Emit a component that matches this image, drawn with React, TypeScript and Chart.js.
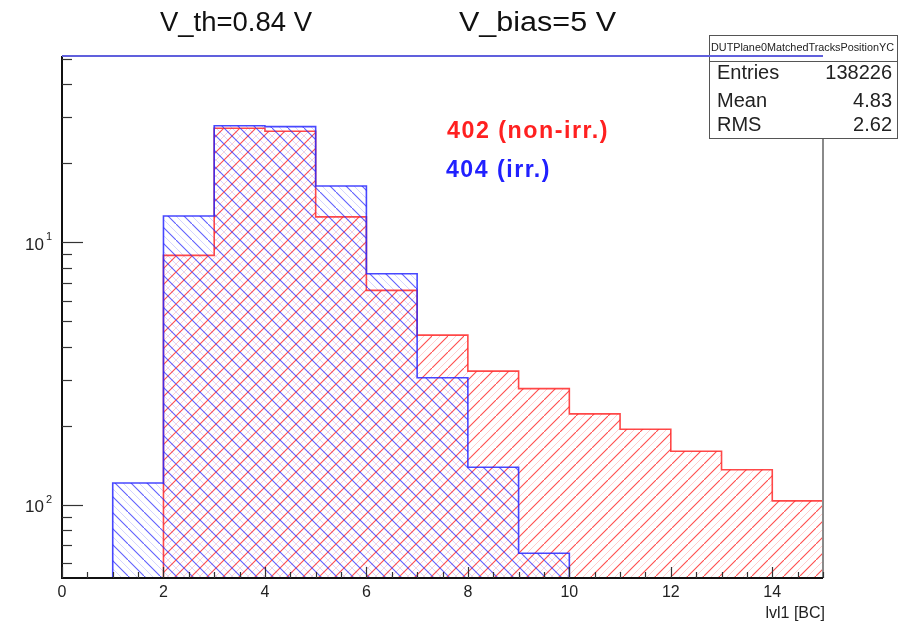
import React, { useEffect, useRef } from "react";
import { Chart, registerables } from "chart.js";

Chart.register(...registerables);

// ---- data ----
const binEdges = [0, 1, 2, 3, 4, 5, 6, 7, 8, 9, 10, 11, 12, 13, 14, 15];
const red402 = [0, 0, 0.0892, 0.272, 0.265, 0.125, 0.0656, 0.0443, 0.0323, 0.0277, 0.0222, 0.0194, 0.016, 0.0136, 0.01035];
const blue404 = [0, 0.0121, 0.126, 0.278, 0.276, 0.164, 0.0759, 0.0305, 0.0139, 0.00654, 0, 0, 0, 0, 0];
const xTickValues = [0, 2, 4, 6, 8, 10, 12, 14];
const yTickValues = [0.01, 0.1];
const yTickExponents = ["2", "1"];
const titleLeft = "V_th=0.84 V";
const titleRight = "V_bias=5 V";
const statsTitle = "DUTPlane0MatchedTracksPositionYC";
const statsNames = ["Entries", "Mean", "RMS"];
const statsValues = ["138226", "4.83", "2.62"];
const legendRed = "402 (non-irr.)";
const legendBlue = "404 (irr.)";
const xAxisTitle = "lvl1 [BC]";

const X_MIN = 0;
const X_MAX = 15;
const Y_MIN = 0.00526;
const Y_MAX = 0.513;
const FONT = '"Liberation Sans", Arial, sans-serif';

function histPoints(values: number[]) {
  const pts: { x: number; y: number }[] = [];
  for (let i = 0; i < values.length; i++) {
    pts.push({ x: binEdges[i], y: values[i] > 0 ? values[i] : Y_MIN });
  }
  const last = values[values.length - 1];
  pts.push({ x: binEdges[binEdges.length - 1], y: last > 0 ? last : Y_MIN });
  pts.push({ x: binEdges[binEdges.length - 1], y: Y_MIN });
  return pts;
}

function makeHatch(color: string, faint: string, size: number, forward: boolean) {
  const c = document.createElement("canvas");
  c.width = size;
  c.height = size;
  const g = c.getContext("2d")!;
  const seg = (x1: number, y1: number, x2: number, y2: number, col: string, w: number) => {
    g.strokeStyle = col;
    g.lineWidth = w;
    g.beginPath();
    if (forward) {
      g.moveTo(x1, y1);
      g.lineTo(x2, y2);
    } else {
      g.moveTo(size - x1, y1);
      g.lineTo(size - x2, y2);
    }
    g.stroke();
  };
  const h = size / 2;
  seg(-1, size + 1, size + 1, -1, color, 1.1);
  seg(-1, h + 1, h + 1, -1, faint, 1);
  seg(h - 1, size + 1, size + 1, h - 1, faint, 1);
  return g.createPattern(c, "repeat")!;
}

function fitText(ctx: CanvasRenderingContext2D, text: string, x: number, y: number, width: number) {
  const w = ctx.measureText(text).width;
  ctx.save();
  ctx.translate(x, y);
  ctx.scale(width / w, 1);
  ctx.textAlign = "left";
  ctx.fillText(text, 0, 0);
  ctx.restore();
}

const decorPlugin = {
  id: "rootDecor",
  afterDatasetsDraw(chart: any) {
    const ctx = chart.ctx as CanvasRenderingContext2D;
    const xs = chart.scales.x;
    const ys = chart.scales.y;
    const { left, right, top, bottom } = chart.chartArea;
    ctx.save();

    // right frame (gray)
    ctx.strokeStyle = "#8a8a8a";
    ctx.lineWidth = 2;
    ctx.beginPath();
    ctx.moveTo(right, top);
    ctx.lineTo(right, bottom);
    ctx.stroke();

    // left axis
    ctx.strokeStyle = "#111";
    ctx.lineWidth = 2;
    ctx.beginPath();
    ctx.moveTo(left, top);
    ctx.lineTo(left, bottom + 1);
    ctx.stroke();

    // bottom axis
    ctx.beginPath();
    ctx.moveTo(left, bottom);
    ctx.lineTo(right, bottom);
    ctx.stroke();

    // x ticks
    ctx.lineWidth = 1.2;
    ctx.strokeStyle = "#333";
    for (let v = X_MIN; v <= X_MAX + 1e-9; v += 0.5) {
      const px = Math.round(xs.getPixelForValue(v)) + 0.5;
      const major = Math.abs(v / 2 - Math.round(v / 2)) < 1e-9;
      const len = major ? 11 : 6;
      ctx.beginPath();
      ctx.moveTo(px, bottom);
      ctx.lineTo(px, bottom - len);
      ctx.stroke();
    }
    // y ticks (log)
    for (let k = -3; k <= 0; k++) {
      for (let m = 1; m <= 9; m++) {
        const v = m * Math.pow(10, k);
        if (v < Y_MIN || v > Y_MAX) continue;
        const py = Math.round(ys.getPixelForValue(v)) + 0.5;
        const len = m === 1 ? 21 : 10;
        ctx.beginPath();
        ctx.moveTo(left, py);
        ctx.lineTo(left + len, py);
        ctx.stroke();
      }
    }

    // x tick labels
    ctx.fillStyle = "#222";
    ctx.font = `16px ${FONT}`;
    ctx.textAlign = "center";
    ctx.textBaseline = "middle";
    xTickValues.forEach((v) => {
      ctx.fillText(String(v), xs.getPixelForValue(v), 593);
    });
    // x axis title
    ctx.textAlign = "right";
    ctx.fillText(xAxisTitle, right + 2, 614);

    // y tick labels
    yTickValues.forEach((v, i) => {
      const py = ys.getPixelForValue(v);
      ctx.font = `17px ${FONT}`;
      ctx.textAlign = "right";
      ctx.fillText("10", 44, py + 3);
      ctx.font = `11px ${FONT}`;
      ctx.textAlign = "left";
      ctx.fillText(yTickExponents[i], 46, py - 5);
    });

    // title
    ctx.fillStyle = "#111";
    ctx.font = `27px ${FONT}`;
    ctx.textBaseline = "alphabetic";
    fitText(ctx, titleLeft, 160, 31, 152);
    fitText(ctx, titleRight, 459, 31, 157);

    // legend texts
    ctx.font = `bold 23px ${FONT}`;
    (ctx as any).letterSpacing = "1.5px";
    ctx.textBaseline = "middle";
    ctx.fillStyle = "#ff2020";
    fitText(ctx, legendRed, 447, 132, 162);
    ctx.fillStyle = "#2020ff";
    fitText(ctx, legendBlue, 446, 171, 105);
    (ctx as any).letterSpacing = "0px";

    // stats box
    ctx.fillStyle = "#fff";
    ctx.fillRect(709.5, 35.5, 188, 103);
    ctx.strokeStyle = "#555";
    ctx.lineWidth = 1;
    ctx.strokeRect(709.5, 35.5, 188, 103);
    ctx.beginPath();
    ctx.moveTo(709.5, 61.5);
    ctx.lineTo(897.5, 61.5);
    ctx.stroke();
    ctx.fillStyle = "#222";
    ctx.font = `10px ${FONT}`;
    fitText(ctx, statsTitle, 711, 48, 183);
    const rowsY = [73, 101, 125];
    ctx.font = `20px ${FONT}`;
    statsNames.forEach((n, i) => {
      ctx.textAlign = "left";
      ctx.fillText(n, 717, rowsY[i]);
      ctx.textAlign = "right";
      ctx.fillText(statsValues[i], 892, rowsY[i]);
    });

    // top frame (blue)
    ctx.strokeStyle = "#6060dd";
    ctx.lineWidth = 2;
    ctx.beginPath();
    ctx.moveTo(left, top);
    ctx.lineTo(right, top);
    ctx.stroke();

    ctx.restore();
  },
};

export default function App() {
  const ref = useRef<HTMLCanvasElement | null>(null);
  useEffect(() => {
    if (!ref.current) return;
    const redPat = makeHatch("rgba(255,30,30,0.8)", "rgba(255,60,60,0.25)", 16, true);
    const bluePat = makeHatch("rgba(40,40,255,0.75)", "rgba(60,60,255,0.22)", 16, false);
    const chart = new Chart(ref.current, {
      type: "line",
      data: {
        datasets: [
          {
            label: legendBlue,
            data: histPoints(blue404),
            stepped: "before",
            borderColor: "rgba(40,40,255,0.85)",
            borderWidth: 1.6,
            backgroundColor: bluePat,
            fill: "start",
            pointRadius: 0,
          },
          {
            label: legendRed,
            data: histPoints(red402),
            stepped: "before",
            borderColor: "rgba(255,40,40,0.85)",
            borderWidth: 1.6,
            backgroundColor: redPat,
            fill: "start",
            pointRadius: 0,
          },
        ],
      },
      options: {
        responsive: false,
        animation: false,
        layout: { padding: { left: 62, top: 56, right: 75, bottom: 49 } },
        scales: {
          x: { type: "linear", min: X_MIN, max: X_MAX, display: false },
          y: { type: "logarithmic", min: Y_MIN, max: Y_MAX, display: false },
        },
        plugins: {
          legend: { display: false },
          tooltip: { enabled: false },
          title: { display: false },
        },
      },
      plugins: [decorPlugin],
    });
    return () => chart.destroy();
  }, []);
  return (
    <div style={{ position: "absolute", left: 0, top: 0, width: 898, height: 627, background: "#fff" }}>
      <canvas ref={ref} width={898} height={627} />
    </div>
  );
}
